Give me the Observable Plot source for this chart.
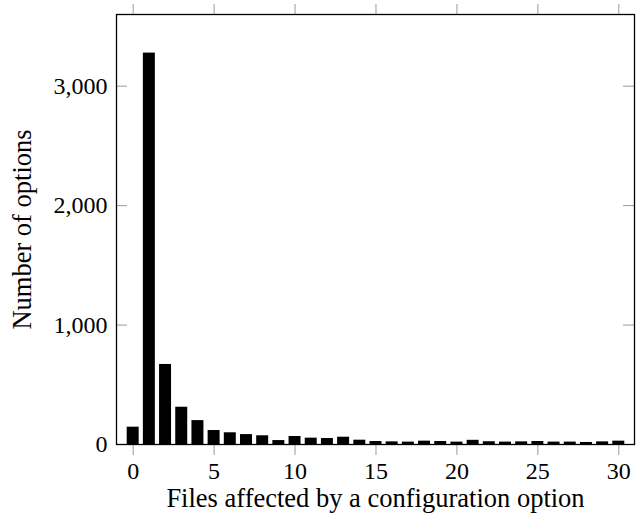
<!DOCTYPE html>
<html>
<head>
<meta charset="utf-8">
<script src="https://cdn.jsdelivr.net/npm/d3@7"></script>
<script src="https://cdn.jsdelivr.net/npm/@observablehq/plot@0.6"></script>
<style>
  html, body { margin: 0; padding: 0; background: #fff; }
  #chart { width: 642px; height: 514px; }
  #chart svg, #chart svg text { font-family: "Liberation Serif", "DejaVu Serif", serif !important; }
</style>
</head>
<body>
<div id="chart"></div>
<script>
// Files affected by a configuration option (category)
const filesAffected = [0,1,2,3,4,5,6,7,8,9,10,11,12,13,14,15,16,17,18,19,20,21,22,23,24,25,26,27,28,29,30];
// Number of options (series)
const numOptions = [145,3277,670,312,200,117,98,83,73,33,67,53,50,61,36,25,22,20,28,25,20,35,23,20,22,25,20,20,17,22,28];
// Tick values
const xTicks = [0,5,10,15,20,25,30];
const yTicks = [0,1000,2000,3000];
const xLabel = "Files affected by a configuration option";
const yLabel = "Number of options";

const data = filesAffected.map((x, i) => ({x, count: numOptions[i]}));
const halfBar = 0.37;

const W = 642, H = 514;
const mL = 116, mR = 8, mT = 14, mB = 70;
const plotW = W - mL - mR;
const tickGray = "#9a9a9a";
const serif = "Liberation Serif";

const chart = Plot.plot({
  width: W,
  height: H,
  marginLeft: mL,
  marginRight: mR,
  marginTop: mT,
  marginBottom: mB,
  style: {background: "#fff", color: "#000"},
  x: {type: "linear", domain: [-1.03, 30.97]},
  y: {domain: [0, 3600]},
  marks: [
    Plot.rectY(data, {x1: d => d.x - halfBar, x2: d => d.x + halfBar, y1: 0, y2: "count", fill: "#000"}),
    Plot.axisX({anchor: "bottom", ticks: xTicks, tickSize: 11, tickPadding: 6, stroke: tickGray, fill: "#000", fontSize: 24, fontFamily: serif, label: null, tickFormat: d => String(d)}),
    Plot.axisX({anchor: "top", ticks: xTicks, tickSize: 11, stroke: tickGray, label: null, tickFormat: () => ""}),
    Plot.axisY({anchor: "left", ticks: yTicks, tickSize: 0, tickPadding: 9, fill: "#000", fontSize: 24, fontFamily: serif, label: null, tickFormat: d3.format(",")}),
    Plot.tickY(yTicks, {y: d => d, stroke: tickGray, strokeWidth: 1, insetRight: plotW - 11}),
    Plot.tickY(yTicks, {y: d => d, stroke: tickGray, strokeWidth: 1, insetLeft: plotW - 11}),
    Plot.frame({stroke: "#000", strokeWidth: 1.3}),
    Plot.text([xLabel], {text: d => d, frameAnchor: "bottom", dy: 62, fontSize: 26.5, fontFamily: serif, fill: "#000", textAnchor: "middle"}),
    Plot.text([yLabel], {text: d => d, frameAnchor: "left", dx: -94, rotate: -90, fontSize: 26.5, fontFamily: serif, fill: "#000", textAnchor: "middle"})
  ]
});
document.getElementById("chart").appendChild(chart);
</script>
</body>
</html>
